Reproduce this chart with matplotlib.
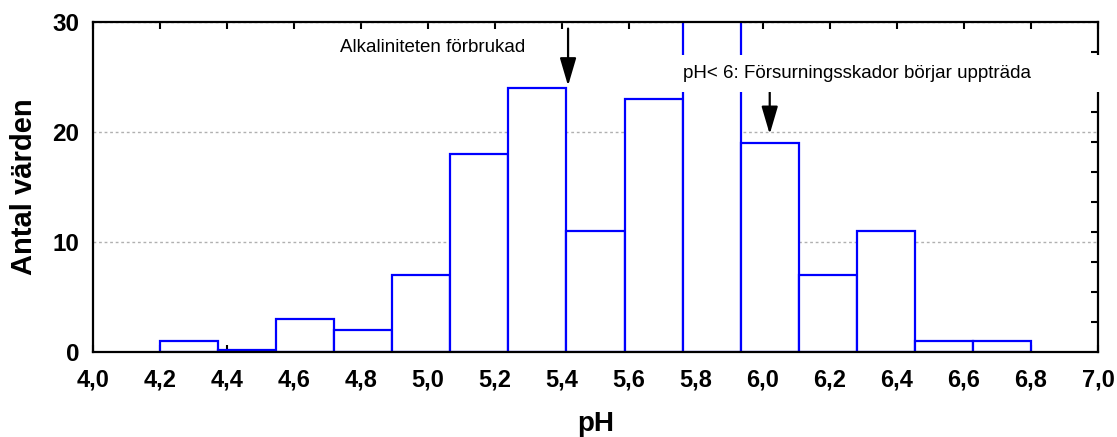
import matplotlib.pyplot as plt
from matplotlib.patches import Rectangle

# histogram of pH values (15 equal bins from 4.2 to 6.8)
bin_edges = [4.2 + k * 2.6 / 15 for k in range(16)]
counts = [1, 0.2, 3, 2, 7, 18, 24, 11, 23, 34, 19, 7, 11, 1, 1]
xticks = [4.0, 4.2, 4.4, 4.6, 4.8, 5.0, 5.2, 5.4, 5.6, 5.8, 6.0, 6.2, 6.4, 6.6, 6.8, 7.0]
yticks = [0, 10, 20, 30]

plt.rcParams["font.family"] = ["Liberation Sans", "DejaVu Sans"]

fig = plt.figure(figsize=(11.17, 4.37), dpi=100)
ax = fig.add_axes([0.0833, 0.1945, 0.8997, 0.7552])

widths = [bin_edges[i + 1] - bin_edges[i] for i in range(len(counts))]
ax.bar(bin_edges[:-1], counts, width=widths, align="edge",
       facecolor="white", edgecolor="#0000ff", linewidth=1.6, zorder=2)

ax.set_xlim(4.0, 7.0)
ax.set_ylim(0, 30)
ax.set_xticks(xticks)
ax.set_xticklabels([f"{t:.1f}".replace(".", ",") for t in xticks],
                   fontsize=17, fontweight="bold")
ax.set_yticks(yticks)
ax.set_yticklabels([str(t) for t in yticks], fontsize=17.5, fontweight="bold")

ax.set_axisbelow(True)
ax.yaxis.grid(True, linestyle=(0, (2, 2)), color="#b0b0b0", linewidth=1)

ax.tick_params(axis="x", direction="in", length=5, width=1.5,
               top=True, pad=12, colors="black")
ax.tick_params(axis="y", length=0, pad=10)

for s in ax.spines.values():
    s.set_linewidth(1.6)
    s.set_color("black")

# right-hand axis with minor tick marks only
ax2 = ax.twinx()
ax2.set_ylim(0, 11)
ax2.set_yticks(range(1, 11))
ax2.set_yticklabels([])
ax2.tick_params(axis="y", direction="in", length=5, width=1.5)
for s in ax2.spines.values():
    s.set_visible(False)

ax.set_xlabel("pH", fontsize=20, fontweight="bold", labelpad=14)
ax.set_ylabel("Antal värden", fontsize=21, fontweight="bold", labelpad=10)

arrow = dict(arrowstyle="-|>,head_length=1.7,head_width=0.5",
             color="black", lw=1.6, shrinkA=0, shrinkB=0)

ax.text(5.29, 27.7, "Alkaliniteten förbrukad", fontsize=13.5,
        ha="right", va="center")
ax.annotate("", xy=(5.418, 24.2), xytext=(5.418, 29.4),
            arrowprops=arrow, zorder=5)

# white label box that covers the bars and the right spine
box = Rectangle((5.74, 23.6), 1.29, 3.4, facecolor="white", edgecolor="none",
                clip_on=False, zorder=10)
ax2.add_patch(box)
box.set_transform(ax.transData)
ax2.text(5.76, 25.3, "pH< 6: Försurningsskador börjar uppträda",
         fontsize=13.5, ha="left", va="center", transform=ax.transData, zorder=11)
ax.annotate("", xy=(6.02, 19.8), xytext=(6.02, 23.6),
            arrowprops=arrow, zorder=5)

plt.savefig("out.png", dpi=100)
